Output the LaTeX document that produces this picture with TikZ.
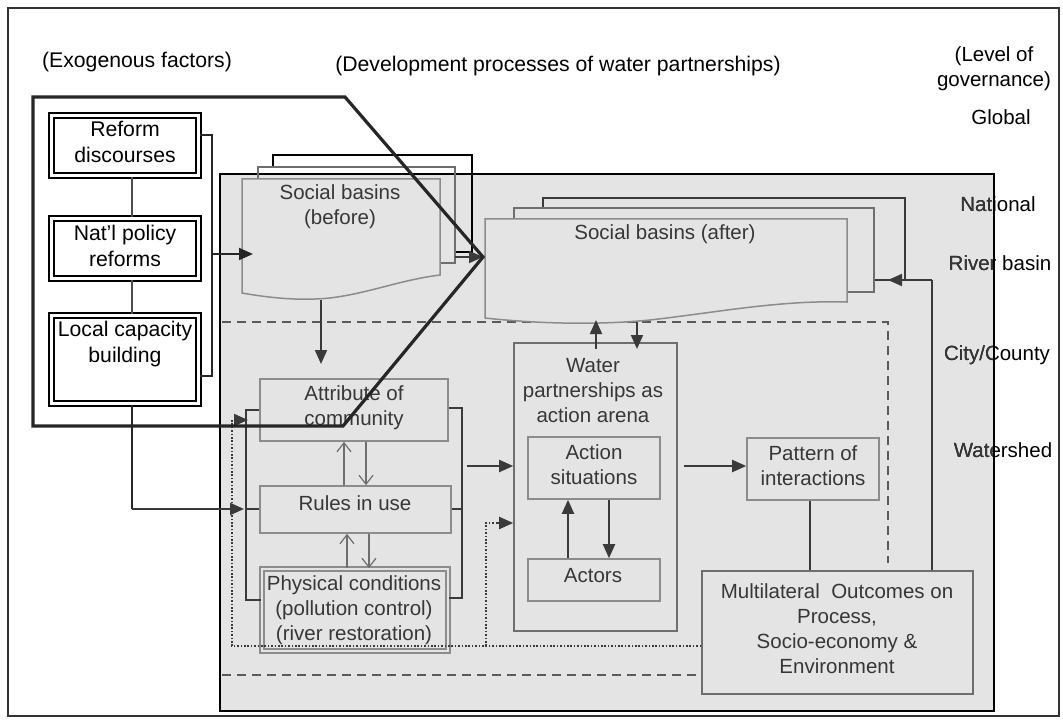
\documentclass[tikz,border=0pt]{standalone}
\usepackage{fontspec}
\setmainfont{Liberation Sans}
\usetikzlibrary{arrows.meta,fit}

\definecolor{panel}{RGB}{228,228,228}
\definecolor{ink}{RGB}{58,58,58}
\definecolor{edge}{RGB}{140,140,140}
\definecolor{edgedark}{RGB}{110,110,110}
\definecolor{txt}{RGB}{55,55,55}
\definecolor{dashc}{RGB}{90,90,90}

\begin{document}
\begin{tikzpicture}[x=1pt,y=-1pt,
  lbl/.style={font=\fontsize{20.5}{25}\selectfont, inner sep=0pt, align=center},
  biglbl/.style={font=\fontsize{21.2}{25.5}\selectfont, inner sep=0pt, align=center},
  inlbl/.style={lbl, text=txt},
  gbox/.style={draw=edge, line width=1.6pt, inner sep=0pt},
  gboxdark/.style={draw=edgedark, line width=1.6pt, inner sep=0pt},
  gdouble/.style={draw=edge, line width=1.6pt, double=panel, double distance=2pt, inner sep=0pt},
  exbox/.style={draw=black, line width=2.2pt, double=white, double distance=2.6pt, inner sep=0pt},
  arr/.style={draw=ink, line width=2pt, -{Triangle[length=14pt,width=12pt]}},
  link/.style={draw=ink, line width=1.6pt},
  blacklink/.style={draw=black!85, line width=2pt},
  openarr/.style={draw=edgedark, line width=1.2pt, -{Straight Barb[length=9pt,width=14pt]}},
  dotline/.style={draw=ink, line width=1.6pt, dash pattern=on 1.6pt off 1.8pt},
  dashline/.style={draw=dashc, line width=1.6pt, dash pattern=on 9pt off 6pt},
  sheet/.style={draw=edge, line width=1.5pt},
]
\useasboundingbox (0,0) rectangle (1063,722);

% outer frame
\draw[black!80, line width=1.2pt] (8,8) rectangle (1059,716);

% headings
\node[biglbl] (hexo) at (137,62) {(Exogenous factors)};
\node[biglbl] (hdev) at (558,66) {(Development processes of water\ partnerships)};
\node[lbl] (hlev) at (994,69) {(Level of\\governance)};
\node[lbl] (lglobal) at (1001,117) {Global};

% panel of the local process
\fill[panel] (220,174) rectangle (994,711);
\node[lbl] (lnat) at (998,204) {National};
\node[lbl] (lriver) at (1000,263) {River basin};
\node[lbl] (lcity) at (997,355) {City/County};
\node[lbl] (lwater) at (1003,450) {Watershed};
\begin{scope}
  \clip (220,174) rectangle (994,711);
  \node[inlbl] at (998,204) {National};
  \node[inlbl] at (1000,263) {River basin};
  \node[inlbl] at (997,355) {City/County};
  \node[inlbl] at (1003,450) {Watershed};
\end{scope}
\draw[black, line width=2pt] (220,174) rectangle (994,711);

% level boundaries
\draw[dashline] (222,322) -- (888,322) -- (888,563);

% social basins before: stacked sheets
\draw[black, line width=1.1pt] (273,167) -- (273,155) -- (472,155) -- (472,252) -- (455,252);
\draw[draw=edgedark, line width=1.4pt] (258,179) -- (258,167) -- (455,167) -- (455,263) -- (440,263);
\draw[sheet, fill=panel] (242,179) -- (440,179) -- (440,275)
  .. controls (400,280) and (370,293) .. (330,298)
  .. controls (300,301) and (270,298) .. (242,293) -- cycle;
\node[inlbl] (beforeT) at (340,207) {Social basins\\(before)};
\coordinate (beforeBot) at (321,300);
\coordinate (beforeR) at (455,257);

% social basins after: stacked sheets
\draw[draw=ink, line width=1.2pt] (543,208) -- (543,198) -- (905,198) -- (905,280) -- (874,280);
\draw[draw=edgedark, line width=1.4pt] (514,219) -- (514,208) -- (874,208) -- (874,292) -- (847,292);
\draw[sheet, fill=panel] (485,219) -- (847,219) -- (847,302)
  .. controls (780,300) and (720,312) .. (650,320)
  .. controls (600,325) and (540,324) .. (485,318) -- cycle;
\node[inlbl] (afterT) at (665,234) {Social basins (after)};
\coordinate (afterW) at (483,257);
\coordinate (afterE) at (888,280);

% community, rules and physical conditions
\node[gbox, fit={(260,379)(448,441)}] (attr) {};
\node[inlbl] (attrT) at (354,408) {Attribute of\\community};
\node[gbox, fit={(260,486)(451,533)}] (rules) {};
\node[inlbl] (rulesT) at (355,503) {Rules in use};
\node[gdouble, fit={(262,569)(448,651)}] (phys) {};
\node[inlbl] (physT) at (354,610) {Physical conditions\\(pollution control)\\(river restoration)};

% action arena
\node[gboxdark, fit={(514,343)(677,631)}] (arena) {};
\node[inlbl] (arenaT) at (593,391) {Water\\partnerships as\\action arena};
\node[gbox, fit={(528,437)(660,499)}] (action) {};
\node[inlbl] (actionT) at (594,465) {Action\\situations};
\node[gbox, fit={(528,559)(660,601)}] (actors) {};
\node[inlbl] (actorsT) at (593,576) {Actors};

% interactions and outcomes
\node[gbox, fit={(747,438)(879,500)}] (pattern) {};
\node[inlbl] (patternT) at (813,466) {Pattern of\\interactions};
\node[gboxdark, fit={(702,571)(973,694)}] (multi) {};
\node[inlbl] (multiT) at (837,629) {Multilateral~ Outcomes on\\Process,\\Socio-economy \&\\Environment};

\draw[dashline] (222,675) -- (multi.west |- 0,675);

% links inside the panel
\draw[arr] (beforeBot) -- (321,364);
\draw[arr] (beforeR) -- (afterW);
\draw[openarr] (344,0 |- rules.north) -- (344,0 |- attr.south);
\draw[openarr] (366,0 |- attr.south) -- (366,0 |- rules.north);
\draw[openarr] (347,0 |- phys.north) -- (347,0 |- rules.south);
\draw[openarr] (369,0 |- rules.south) -- (369,0 |- phys.north);

\coordinate (lbTop) at (246,410);
\coordinate (lbBot) at (246,600);
\draw[link] (attr.west |- lbTop) -- (lbTop) -- (lbBot) -- (phys.west |- lbBot);
\draw[link] (rules.west |- 0,509) -- (246,509);
\coordinate (rbTop) at (462,408);
\coordinate (rbBot) at (462,598);
\draw[link] (attr.east |- rbTop) -- (rbTop) -- (rbBot) -- (phys.east |- rbBot);
\draw[link] (rules.east |- 0,509) -- (462,509);
\draw[arr] (467,466) -- (arena.west |- 0,466);

\draw[dotline] (multi.west |- 0,646) -- (232,646) -- (232,420) -- (236,420);
\draw[arr] (235,420) -- (248,420);
\draw[dotline] (486,646) -- (486,523) -- (498,523);
\draw[arr] (497,523) -- (arena.west |- 0,523);

\draw[arr] (596,349) -- (596,320);
\draw[arr] (637,322) -- (637,349);
\draw[arr] (568,0 |- actors.north) -- (568,0 |- action.south);
\draw[arr] (609,0 |- action.south) -- (609,0 |- actors.north);
\draw[arr] (684,466) -- (pattern.west |- 0,466);
\draw[link] (810,0 |- pattern.south) -- (810,0 |- multi.north);
\draw[link, line width=2pt] (932,0 |- multi.north) -- (932,280);
\draw[arr] (932,280) -- (afterE);

% exogenous factors
\node[exbox, fit={(51.5,115.5)(198.5,175.5)}] (reform) {};
\node[biglbl] (reformT) at (125,142) {Reform\\discourses};
\node[exbox, fit={(51.5,218.5)(198.5,278.5)}] (natl) {};
\node[biglbl] (natlT) at (125,246) {Nat’l policy\\reforms};
\node[exbox, fit={(51.5,315.5)(198.5,403.5)}] (local) {};
\node[biglbl] (localT) at (125,344) {Local capacity\\building};

\draw[draw=black!70, line width=1.5pt] (132,0 |- reform.south) -- (132,0 |- natl.north);
\draw[draw=black!70, line width=1.5pt] (132,0 |- natl.south) -- (132,0 |- local.north);
\coordinate (exTop) at (212,135);
\coordinate (exBot) at (212,376);
\draw[blacklink] (reform.east |- exTop) -- (exTop) -- (exBot) -- (local.east |- exBot);
\draw[arr, draw=black!85] (212,254) -- (253,254);
\draw[blacklink] (132,0 |- local.south) -- (132,509);
\draw[arr] (132,509) -- (244,509);

% outline of the exogenous influence
\draw[black!85, line width=3.2pt, line join=miter]
  (33,97) -- (345,97) -- (afterW) -- (343,426) -- (33,426) -- cycle;

\end{tikzpicture}
\end{document}
